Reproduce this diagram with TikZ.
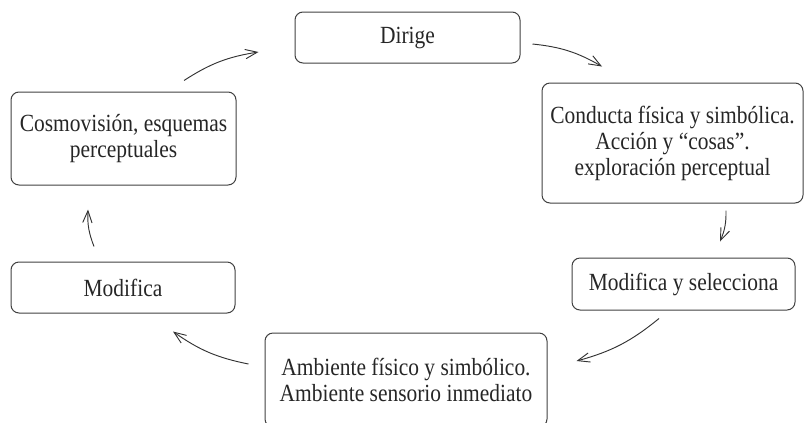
\documentclass[tikz,border=0pt]{standalone}
\usepackage{fontspec}
\setmainfont[FakeStretch=0.87]{Liberation Serif}
\usetikzlibrary{arrows.meta}

\begin{document}
\begin{tikzpicture}[x=0.75pt,y=-0.75pt]
	\tikzset{
		caja/.style = {draw=black!75, line width=0.75pt, rounded corners=6pt, align=center, inner sep=0pt,
				font=\fontsize{18.5}{19.5}\selectfont, text=black!85},
		flecha/.style = {draw=black!80, line width=0.7pt, -{Straight Barb[length=9pt,width=7pt]}, bend left=12}
	}
	\useasboundingbox (0,0) rectangle (809,422);

	\node[caja, minimum width=168.75pt, minimum height=38.25pt] (dirige) at (407.5,37.5) {Dirige};
	\node[caja, minimum width=195.75pt, minimum height=90pt] (conducta) at (672.5,143)
		{Conducta física y simbólica.\\ Acción y “cosas”.\\ exploración perceptual};
	\node[caja, minimum width=167.25pt, minimum height=39pt] (modsel) at (683.5,284) {Modifica y selecciona};
	\node[caja, minimum width=211.5pt, minimum height=70.5pt] (ambiente) at (406,380)
		{Ambiente físico y simbólico.\\ Ambiente sensorio inmediato};
	\node[caja, minimum width=168pt, minimum height=38.25pt] (modifica) at (123,287.5) {Modifica};
	\node[caja, minimum width=168.75pt, minimum height=69.75pt] (cosmo) at (123.5,138.5)
		{Cosmovisión, esquemas\\ perceptuales};

	\draw[flecha] ([shift={(60.5,-11)}]cosmo.north) to ([shift={(-36,14.5)}]dirige.west);
	\draw[flecha] ([shift={(12,6.5)}]dirige.east) to ([shift={(-70.5,-16)}]conducta.north);
	\draw[flecha] ([shift={(53.5,7)}]conducta.south) to ([shift={(36.5,-16)}]modsel.north);
	\draw[flecha] ([shift={(-24.5,8)}]modsel.south) to ([shift={(29,-19)}]ambiente.east);
	\draw[flecha] ([shift={(-16,-16)}]ambiente.west) to ([shift={(50,18)}]modifica.south);
	\draw[flecha] ([shift={(-29,-15)}]modifica.north) to ([shift={(-35.5,24)}]cosmo.south);
\end{tikzpicture}
\end{document}
